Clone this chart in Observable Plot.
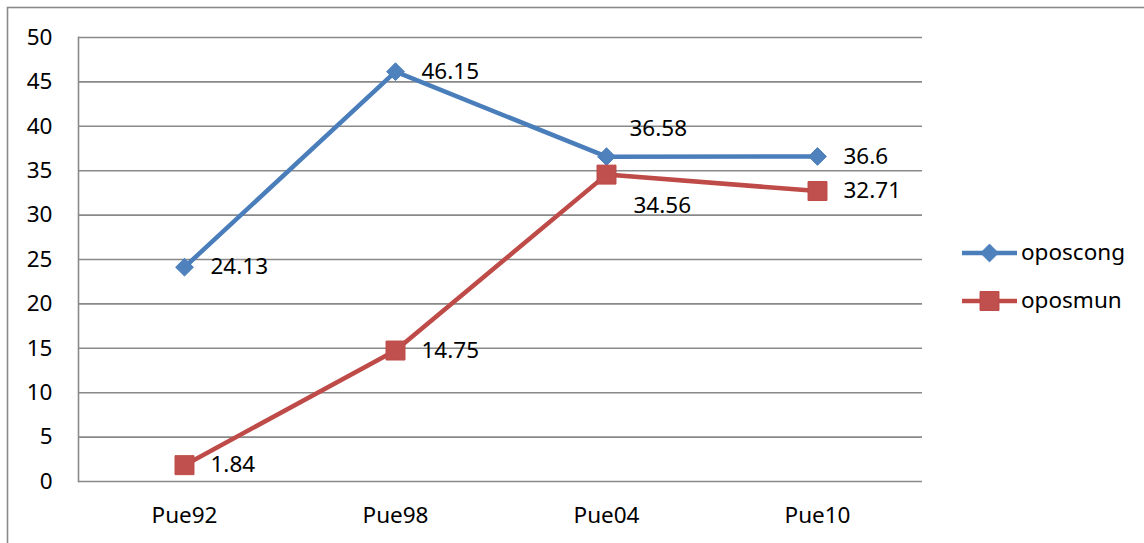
<!DOCTYPE html>
<html>
<head>
<meta charset="utf-8">
<script src="https://cdn.jsdelivr.net/npm/d3@7"></script>
<script src="https://cdn.jsdelivr.net/npm/@observablehq/plot@0.6"></script>
<style>
  html, body { margin: 0; padding: 0; background: #fff; overflow: hidden; }
  #chart { position: relative; width: 1144px; height: 543px; }
</style>
</head>
<body>
<div id="chart"></div>
<script>
const categories = ["Pue92", "Pue98", "Pue04", "Pue10"];
const series = ["oposcong", "oposmun"];
const oposcong = [24.13, 46.15, 36.58, 36.6];
const oposmun = [1.84, 14.75, 34.56, 32.71];
const yTicks = [0, 5, 10, 15, 20, 25, 30, 35, 40, 45, 50];
const colors = ["#4A7EBB", "#BE4B48"];
const markerFill = ["#4F81BD", "#C0504D"];

const FONT = "'Noto Sans', sans-serif";
const FS = 22.5;

const rows = [];
categories.forEach((c, i) => {
  rows.push({cat: c, series: "oposcong", value: oposcong[i], idx: i});
  rows.push({cat: c, series: "oposmun", value: oposmun[i], idx: i});
});

// label placement: where the two series are close, put the upper above and lower below
function closeIdx(i) { return Math.abs(oposcong[i] - oposmun[i]) < 3; }
const rightLabels = rows.filter(d => !closeIdx(d.idx));
const aboveLabels = rows.filter(d => closeIdx(d.idx) && d.series === "oposcong");
const belowLabels = rows.filter(d => closeIdx(d.idx) && d.series === "oposmun");

const svg = Plot.plot({
  width: 1144,
  height: 543,
  marginLeft: 78,
  marginRight: 222,
  marginTop: 37,
  marginBottom: 62,
  style: {fontFamily: FONT, fontSize: FS + "px", background: "transparent", overflow: "visible"},
  x: {type: "point", domain: categories, padding: 0.5},
  y: {domain: [0, 50]},
  color: {domain: series, range: colors},
  marks: [
    Plot.ruleY(yTicks, {stroke: "#898989", strokeWidth: 1.6}),
    Plot.frame({anchor: "left", stroke: "#898989", strokeWidth: 1.6}),
    Plot.axisY({ticks: yTicks, tickSize: 0, tickPadding: 26, fontSize: FS, label: null, fill: "#000"}),
    Plot.axisX({tickSize: 0, tickPadding: 26, fontSize: FS, label: null, fill: "#000"}),
    Plot.line(rows, {x: "cat", y: "value", z: "series", stroke: "series", strokeWidth: 4.5}),
    Plot.dot(rows.filter(d => d.series === "oposcong"), {x: "cat", y: "value", symbol: "diamond2", r: 8, fill: markerFill[0], stroke: colors[0], strokeWidth: 1}),
    Plot.dot(rows.filter(d => d.series === "oposmun"), {x: "cat", y: "value", symbol: "square", r: 10.7, fill: markerFill[1], stroke: colors[1], strokeWidth: 1}),
    Plot.text(rightLabels, {x: "cat", y: "value", text: d => String(d.value), textAnchor: "start", dx: 26, fontSize: FS, fill: "#000"}),
    Plot.text(aboveLabels, {x: "cat", y: "value", text: d => String(d.value), textAnchor: "start", dx: 23, dy: -28, fontSize: FS, fill: "#000"}),
    Plot.text(belowLabels, {x: "cat", y: "value", text: d => String(d.value), textAnchor: "start", dx: 27, dy: 31, fontSize: FS, fill: "#000"})
  ]
});

const s = d3.select(svg);
// outer chart border
s.append("rect")
  .attr("x", 7.5).attr("y", 7.5).attr("width", 1400).attr("height", 800)
  .attr("fill", "none").attr("stroke", "#8a8a8a").attr("stroke-width", 1.6);

// legend
const legendY = [253, 301];
const symbols = [d3.symbol(d3.symbolDiamond2, 8 * 8 * Math.PI)(), d3.symbol(d3.symbolSquare, 10.7 * 10.7 * Math.PI)()];
series.forEach((name, i) => {
  const g = s.append("g").attr("transform", `translate(0,${legendY[i]})`);
  g.append("line").attr("x1", 962).attr("x2", 1017).attr("y1", 0).attr("y2", 0)
    .attr("stroke", colors[i]).attr("stroke-width", 4.5);
  g.append("path").attr("d", symbols[i]).attr("transform", "translate(989.5,0)")
    .attr("fill", markerFill[i]).attr("stroke", colors[i]);
  g.append("text").attr("x", 1021).attr("y", 0).attr("dy", "0.32em")
    .attr("text-anchor", "start")
    .attr("font-family", FONT).attr("font-size", FS).attr("fill", "#000").text(name);
});

document.getElementById("chart").appendChild(svg);
</script>
</body>
</html>
